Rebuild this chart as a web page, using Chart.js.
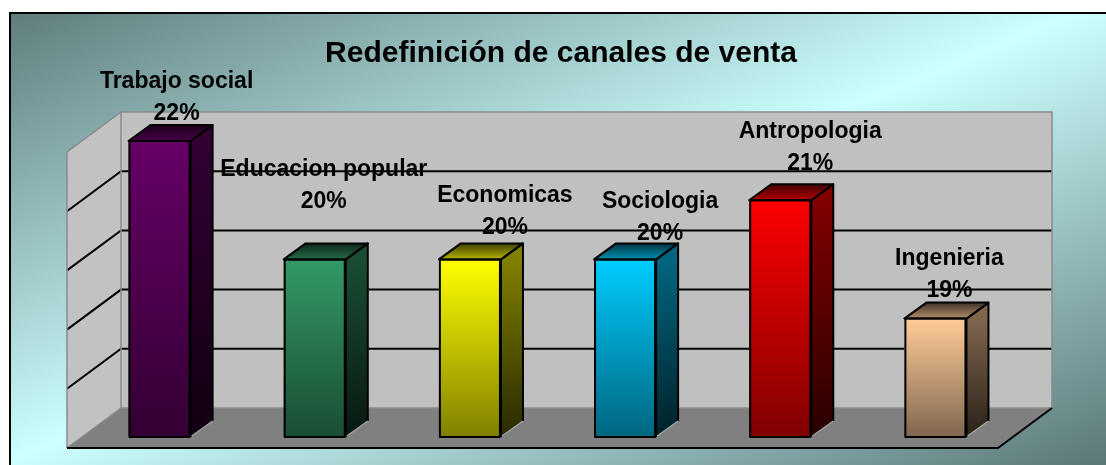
<!DOCTYPE html>
<html>
<head>
<meta charset="utf-8">
<script src="https://cdn.jsdelivr.net/npm/chart.js@4.4.1/dist/chart.umd.min.js"></script>
<style>
  html, body { margin: 0; padding: 0; background: #ffffff; }
  canvas { display: block; }
</style>
</head>
<body>
<canvas id="c" width="1106" height="465"></canvas>
<script>
// ---- data ----
const chartTitle = 'Redefinición de canales de venta';
const categories = ['Trabajo social', 'Educacion popular', 'Economicas', 'Sociologia', 'Antropologia', 'Ingenieria'];
const values = [22, 20, 20, 20, 21, 19];
const percentLabels = ['22%', '20%', '20%', '20%', '21%', '19%'];
const axisMin = 17;
const axisMax = 22;
const axisStep = 1;

// ---- styles / layout (not data) ----
const barColors = [[102,0,102],[51,153,102],[255,255,0],[0,204,255],[255,0,0],[255,204,153]];
const labelShift = [[17,21],[9,51],[35,25],[35,19],[30,30],[14,22]]; // dx from bar centre, baseline rise above bar top
const BAR_DX = 22, BAR_DY = 16;      // bar depth
const WALL_DX = 39, WALL_DY = 29;    // back wall offset from bar front plane
const FLOOR_DX = 15, FLOOR_DY = 11;  // floor front edge offset from bar front plane
const FONT = '"Liberation Sans", Arial, sans-serif';

function rgb(c, f) {
  return 'rgb(' + Math.round(c[0]*f) + ',' + Math.round(c[1]*f) + ',' + Math.round(c[2]*f) + ')';
}

const scenePlugin = {
  id: 'scene',
  beforeDraw(chart) {
    const ctx = chart.ctx, W = chart.width, H = chart.height;
    ctx.save();
    ctx.fillStyle = '#ffffff';
    ctx.fillRect(0, 0, W, H);
    const cx = W / 2, cy = H / 2;
    const len = Math.hypot(W, H);
    const ux = H / len, uy = W / len;
    const half = (cx * ux + cy * uy);
    const g = ctx.createLinearGradient(cx - ux*half, cy - uy*half, cx + ux*half, cy + uy*half);
    g.addColorStop(0, '#5c7878');
    g.addColorStop(0.5, '#ccffff');
    g.addColorStop(1, '#5c7878');
    ctx.fillStyle = g;
    ctx.fillRect(10, 13, W, H);
    ctx.strokeStyle = '#000';
    ctx.lineWidth = 2;
    ctx.strokeRect(10, 13, W + 10, H + 10);
    // title
    ctx.fillStyle = '#000';
    ctx.font = 'bold 30px ' + FONT;
    ctx.textAlign = 'center';
    ctx.textBaseline = 'alphabetic';
    ctx.fillText(chartTitle, 561, 62);
    ctx.restore();
  },
  beforeDatasetsDraw(chart) {
    const ctx = chart.ctx, a = chart.chartArea, y = chart.scales.y;
    const bTop = y.getPixelForValue(axisMax) - WALL_DY;
    const bBot = y.getPixelForValue(axisMin) - WALL_DY;
    const bL = a.left + WALL_DX, bR = a.right + WALL_DX;
    const fL = a.left - FLOOR_DX, fR = a.right - FLOOR_DX;
    const fY = y.getPixelForValue(axisMin) + FLOOR_DY;
    const lwDY = fY - bBot;
    ctx.save();
    // back wall
    ctx.fillStyle = '#c0c0c0';
    ctx.fillRect(bL, bTop, bR - bL, bBot - bTop);
    // left wall
    ctx.beginPath();
    ctx.moveTo(bL, bTop); ctx.lineTo(bL, bBot); ctx.lineTo(fL, fY); ctx.lineTo(fL, bTop + lwDY); ctx.closePath();
    ctx.fillStyle = '#c2c2c2';
    ctx.fill();
    // floor
    ctx.beginPath();
    ctx.moveTo(fL, fY); ctx.lineTo(fR, fY); ctx.lineTo(bR, bBot); ctx.lineTo(bL, bBot); ctx.closePath();
    ctx.fillStyle = '#808080';
    ctx.fill();
    // gridlines
    ctx.strokeStyle = '#000';
    ctx.lineWidth = 2;
    for (let v = axisMin + axisStep; v < axisMax; v += axisStep) {
      const gy = y.getPixelForValue(v) - WALL_DY;
      ctx.beginPath();
      ctx.moveTo(fL, gy + lwDY); ctx.lineTo(bL, gy); ctx.lineTo(bR, gy);
      ctx.stroke();
    }
    // wall outlines
    ctx.strokeStyle = '#8a8a8a';
    ctx.lineWidth = 1.5;
    ctx.beginPath();
    ctx.moveTo(fL, fY); ctx.lineTo(fL, bTop + lwDY); ctx.lineTo(bL, bTop); ctx.lineTo(bR, bTop); ctx.lineTo(bR, bBot);
    ctx.moveTo(bL, bTop); ctx.lineTo(bL, bBot); ctx.lineTo(bR, bBot);
    ctx.moveTo(bL, bBot); ctx.lineTo(fL, fY);
    ctx.stroke();
    ctx.strokeStyle = '#000';
    ctx.lineWidth = 2;
    ctx.beginPath();
    ctx.moveTo(fL, fY); ctx.lineTo(fR, fY); ctx.lineTo(bR, bBot);
    ctx.stroke();
    ctx.restore();
  },
  afterDatasetsDraw(chart) {
    const ctx = chart.ctx;
    const meta = chart.getDatasetMeta(0);
    ctx.save();
    ctx.lineJoin = 'round';
    meta.data.forEach((el, i) => {
      const c = barColors[i];
      const L = el.x - el.width / 2, R = el.x + el.width / 2, T = el.y, B = el.base;
      // side face
      const sg = ctx.createLinearGradient(0, T, 0, B);
      sg.addColorStop(0, rgb(c, 0.5));
      sg.addColorStop(1, rgb(c, 0.16));
      ctx.beginPath();
      ctx.moveTo(R, T); ctx.lineTo(R + BAR_DX, T - BAR_DY); ctx.lineTo(R + BAR_DX, B - BAR_DY); ctx.lineTo(R, B); ctx.closePath();
      ctx.fillStyle = sg;
      ctx.fill();
      ctx.strokeStyle = '#000';
      ctx.lineWidth = 2;
      ctx.beginPath();
      ctx.moveTo(R, B); ctx.lineTo(R, T); ctx.lineTo(R + BAR_DX, T - BAR_DY); ctx.lineTo(R + BAR_DX, B - BAR_DY);
      ctx.stroke();
      ctx.strokeStyle = '#a8a8a8';
      ctx.lineWidth = 1.2;
      ctx.beginPath();
      ctx.moveTo(R + BAR_DX, B - BAR_DY); ctx.lineTo(R + 1, B - 1);
      ctx.stroke();
      // top face
      const tg = ctx.createLinearGradient(0, T - BAR_DY, 0, T);
      tg.addColorStop(0, rgb(c, 0.25));
      tg.addColorStop(1, rgb(c, 0.7));
      ctx.beginPath();
      ctx.moveTo(L, T); ctx.lineTo(L + BAR_DX, T - BAR_DY); ctx.lineTo(R + BAR_DX, T - BAR_DY); ctx.lineTo(R, T); ctx.closePath();
      ctx.fillStyle = tg;
      ctx.fill();
      ctx.strokeStyle = '#000';
      ctx.lineWidth = 2;
      ctx.stroke();
      // front outline
      ctx.strokeRect(L + 1, T, R - L - 2, B - T);
    });
    // labels
    ctx.fillStyle = '#000';
    ctx.font = 'bold 23px ' + FONT;
    ctx.textAlign = 'center';
    ctx.textBaseline = 'alphabetic';
    meta.data.forEach((el, i) => {
      const lx = el.x + labelShift[i][0];
      const ly = el.y - labelShift[i][1];
      ctx.fillText(percentLabels[i], lx, ly);
      ctx.fillText(categories[i], lx, ly - 32);
    });
    ctx.restore();
  }
};

new Chart(document.getElementById('c'), {
  type: 'bar',
  data: {
    labels: categories,
    datasets: [{
      data: values,
      base: axisMin,
      backgroundColor: (context) => {
        const chart = context.chart;
        const c = barColors[context.dataIndex % barColors.length];
        if (!chart.chartArea || context.raw === undefined) return rgb(c, 1);
        const ys = chart.scales.y;
        const top = ys.getPixelForValue(context.raw);
        const bot = ys.getPixelForValue(axisMin);
        const g = chart.ctx.createLinearGradient(0, top, 0, bot);
        g.addColorStop(0, rgb(c, 1));
        g.addColorStop(1, rgb(c, 0.5));
        return g;
      },
      borderColor: '#000',
      borderWidth: 0,
      categoryPercentage: 1.0,
      barPercentage: 0.4
    }]
  },
  options: {
    responsive: false,
    animation: false,
    devicePixelRatio: 1,
    layout: { padding: { left: 82, right: 93, top: 141, bottom: 28 } },
    plugins: { legend: { display: false }, tooltip: { enabled: false }, title: { display: false } },
    scales: {
      x: { display: false },
      y: { display: false, min: axisMin, max: axisMax, ticks: { stepSize: axisStep } }
    }
  },
  plugins: [scenePlugin]
});
</script>
</body>
</html>
